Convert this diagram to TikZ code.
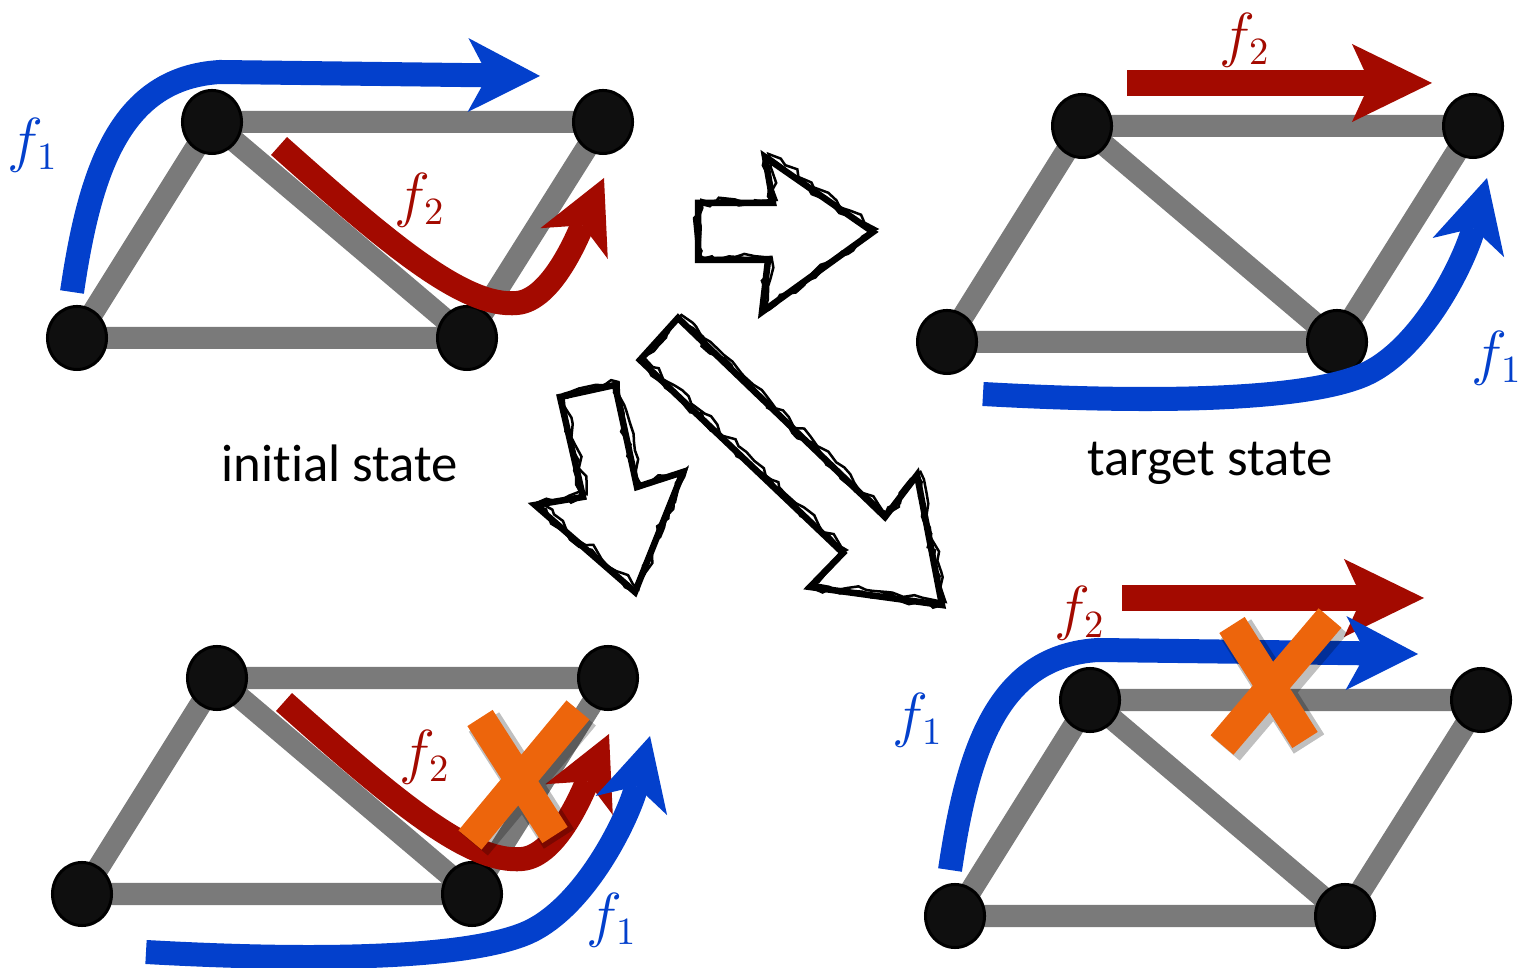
\documentclass[tikz,border=0pt]{standalone}
\usepackage{fontspec}
\setmainfont{Carlito}[Ligatures=NoCommon]
\usepackage{tikz}
\usetikzlibrary{arrows.meta,shapes.geometric,backgrounds,decorations.pathmorphing}
\definecolor{flowblue}{RGB}{3,64,204}
\definecolor{flowred}{RGB}{163,10,0}
\definecolor{linkgray}{RGB}{122,122,122}
\definecolor{crossorange}{RGB}{237,101,12}
\tikzset{
  vtx/.style={ellipse, draw=black, line width=0.3mm, fill=black!94, minimum width=5.9mm, minimum height=6.3mm, inner sep=0pt},
  link/.style={draw=linkgray, line width=2.2mm},
  flow/.style={line width=2.4mm, -{Stealth[length=7.2mm, width=7.4mm, inset=2mm, line width=0pt]}},
  bar/.style={line width=2.6mm, -{Stealth[length=8mm, width=7.8mm, inset=1.8mm, line width=0pt]}},
  flab/.style={font=\fontsize{16}{18}\selectfont},
  caption/.style={font=\fontsize{15}{18}\selectfont},
  cross/.style={draw=crossorange, line width=3mm},
  crossshade/.style={draw=black, opacity=0.25, line width=3.6mm},
  sketchbox/.style={draw=black, line width=0.65mm, line join=miter},
  sketchrough/.style={draw=black, line width=0.25mm, decorate, decoration={random steps, segment length=1mm, amplitude=0.4mm}}
}
\newcommand{\sketcharrow}[1]{\draw[sketchbox] #1; \draw[sketchrough] #1; \draw[sketchrough, xshift=0.35mm, yshift=0.3mm] #1;}

\begin{document}
\begin{tikzpicture}[x=0.01cm, y=-0.01cm]
\useasboundingbox (0,0) rectangle (1525,968);
% the four copies of the network
\foreach \g/\dx/\dy in {i/0/0, t/870/4, a/5/556, b/878/578} {
  \begin{scope}[shift={(\dx,\dy)}]
    \node[vtx] (\g1) at (212,122) {};
    \node[vtx] (\g2) at (603,122) {};
    \node[vtx] (\g3) at (77,338) {};
    \node[vtx] (\g4) at (467,338) {};
  \end{scope}
}
\begin{pgfonlayer}{background}
\foreach \g in {i,t,a,b}
  \draw[link] (\g1.center) -- (\g2.center) (\g1.center) -- (\g3.center) (\g1.center) -- (\g4.center)
              (\g2.center) -- (\g4.center) (\g3.center) -- (\g4.center);
\end{pgfonlayer}

% initial state
\draw[flow, flowred] (279,146) .. controls (390,245) and (465,308) .. (517,303) .. controls (552,300) and (578,235) .. (604,178);
\draw[flow, flowblue] (72,292) .. controls (90,170) and (120,78) .. (220,72) -- (540,76);
\node[flab, flowblue] (if1) at (33,145) {$f_1$};
\node[flab, flowred] (if2) at (420,200) {$f_2$};
\node[caption] (icap) at (340,463) {initial state};

% target state
\draw[bar, flowred] (1127,83) -- (1432,83);
\draw[flow, flowblue] (983,394) .. controls (1180,405) and (1320,398) .. (1370,372) .. controls (1425,343) and (1465,260) .. (1487,178);
\node[flab, flowred] (tf2) at (1245,40) {$f_2$};
\node[flab, flowblue] (tf1) at (1497,358) {$f_1$};
\node[caption] (tcap) at (1210,463) {target state};

% move f1 first
\begin{scope}[shift={(5,556)}]
  \draw[flow, flowred] (279,146) .. controls (390,245) and (465,308) .. (517,303) .. controls (552,300) and (578,235) .. (604,178);
\end{scope}
\begin{scope}[shift={(-837,558)}]
  \draw[flow, flowblue] (983,394) .. controls (1180,405) and (1320,398) .. (1370,372) .. controls (1425,343) and (1465,260) .. (1487,178);
\end{scope}
\node[flab, flowred] (af2) at (425,757) {$f_2$};
\node[flab, flowblue] (af1) at (612,920) {$f_1$};
\draw[crossshade] (484,722) -- (559,839) (582,714) -- (474,844);
\draw[cross] (480,718) -- (555,835) (578,710) -- (470,840);

% move f2 first
\draw[bar, flowred] (1122,598) -- (1424,598);
\begin{scope}[shift={(878,578)}]
  \draw[flow, flowblue] (72,292) .. controls (90,170) and (120,78) .. (220,72) -- (540,76);
\end{scope}
\node[flab, flowred] (bf2) at (1080,613) {$f_2$};
\node[flab, flowblue] (bf1) at (918,720) {$f_1$};
\draw[crossshade] (1236,629) -- (1309,744) (1334,622) -- (1226,749);
\draw[cross] (1232,625) -- (1305,740) (1330,618) -- (1222,745);

% hand-drawn transition arrows
\sketcharrow{(698,203) -- (773,203) -- (765,157) -- (873,232) -- (762,312) -- (768,260) -- (698,260) -- cycle}
\sketcharrow{(560,397) -- (615,385) -- (637,487) -- (683,472) -- (635,592) -- (535,505) -- (583,497) -- cycle}
\sketcharrow{(640,360) -- (678,318) -- (885,517) -- (917,475) -- (942,605) -- (810,587) -- (843,553) -- cycle}
\end{tikzpicture}
\end{document}
